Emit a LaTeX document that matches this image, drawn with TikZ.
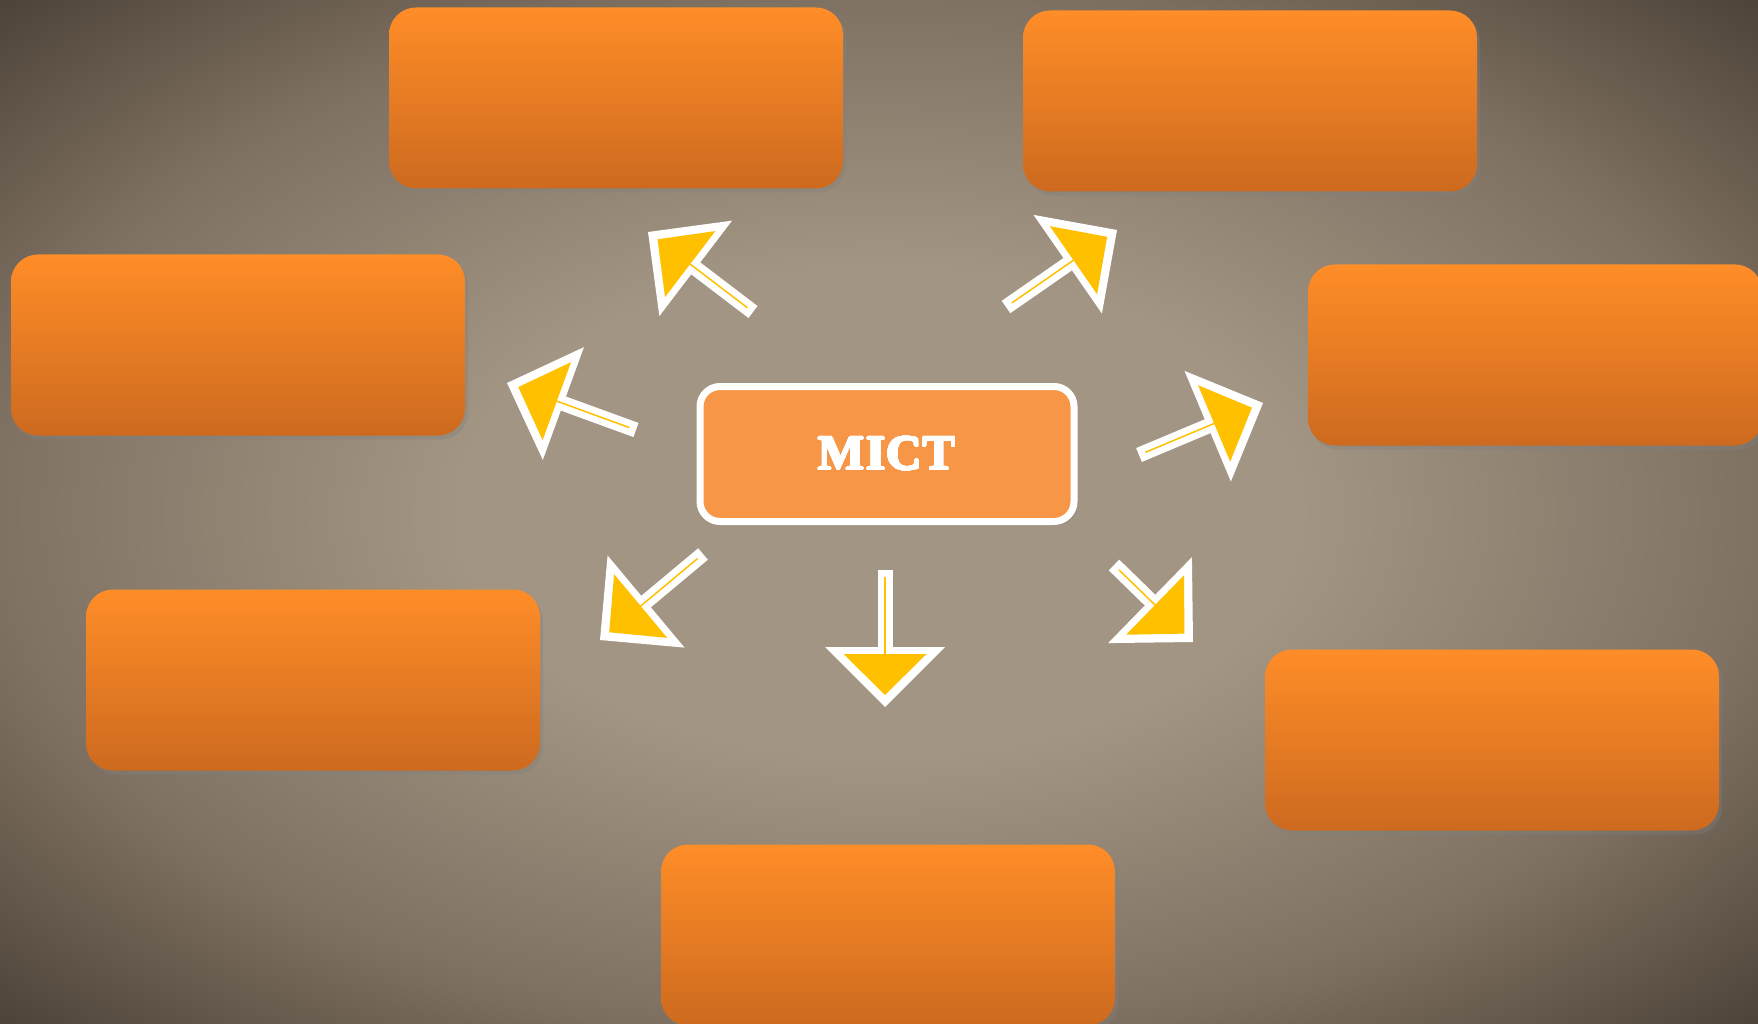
\documentclass[tikz,border=0pt]{standalone}
\usepackage{fontspec}
\setmainfont{Liberation Serif}
\usepackage{contour}
\contourlength{0.7pt}
\contournumber{32}
\usetikzlibrary{arrows.meta,shadows}
\definecolor{NaranjaArriba}{HTML}{FF8D28}
\definecolor{NaranjaAbajo}{HTML}{CD6A1F}
\definecolor{NaranjaCentro}{HTML}{F79646}
\definecolor{Amarillo}{HTML}{FFC000}
\definecolor{FondoClaro}{HTML}{A39583}
\definecolor{FondoMedio}{HTML}{807263}
\definecolor{FondoOscuro}{HTML}{4A4036}
\pgfdeclareradialshading{fondo}{\pgfpoint{0bp}{0bp}}{color(0bp)=(FondoClaro); color(12bp)=(FondoClaro); color(25bp)=(FondoMedio); color(36bp)=(FondoOscuro); color(50bp)=(FondoOscuro)}

\begin{document}
\begin{tikzpicture}[
      x=1pt, y=-1pt,
      caja/.style={rectangle, rounded corners=27pt, top color=NaranjaArriba,
        bottom color=NaranjaAbajo, minimum width=454pt, minimum height=181pt,
        inner sep=0pt, drop shadow={shadow xshift=3pt, shadow yshift=-4pt, opacity=0.35}},
      centro/.style={rectangle, rounded corners=20pt, fill=NaranjaCentro, draw=white,
        line width=7pt, minimum width=374pt, minimum height=135pt, text=white,
        font={\bfseries\fontsize{49}{54}\selectfont},
        drop shadow={shadow xshift=3pt, shadow yshift=-4pt, opacity=0.35}},
      flechablanca/.style={draw=white, line width=15pt,
        -{Triangle[length=60pt, width=120pt, line width=0pt]}},
      flechaamarilla/.style={draw=Amarillo, line width=1.5pt, shorten <=7pt, shorten >=12pt,
        -{Triangle[length=41pt, width=83pt, line width=0pt]}},
    ]

    \useasboundingbox (0,0) rectangle (1758,1024);
    \shade[shading=fondo] (0,0) rectangle (1758,1024);

    \node[caja] (arribaizq) at (616,98)   {};
    \node[caja] (arribader) at (1250,101) {};
    \node[caja] (izq)       at (238,345)  {};
    \node[caja] (der)       at (1535,355) {};
    \node[caja] (abajoizq)  at (313,680)  {};
    \node[caja] (abajoder)  at (1492,740) {};
    \node[caja] (abajo)     at (888,935)  {};
    \node[centro] (mict)    at (887,454)  {\contour{white}{M\kern2pt I\kern1pt C\kern1pt T}};

    \coordinate (cola1) at (753,312);  \coordinate (punta1) at (648,232);
    \coordinate (cola2) at (1006,307); \coordinate (punta2) at (1117,230);
    \coordinate (cola3) at (636,430);  \coordinate (punta3) at (507,383);
    \coordinate (cola4) at (1139,455); \coordinate (punta4) at (1263,403);
    \coordinate (cola5) at (703,554);  \coordinate (punta5) at (600,640);
    \coordinate (cola6) at (885,570);  \coordinate (punta6) at (885,707);
    \coordinate (cola7) at (1114,565); \coordinate (punta7) at (1193,642);

    \draw[flechablanca]   (cola1) -- (punta1);
    \draw[flechaamarilla] (cola1) -- (punta1);
    \draw[flechablanca]   (cola2) -- (punta2);
    \draw[flechaamarilla] (cola2) -- (punta2);
    \draw[flechablanca]   (cola3) -- (punta3);
    \draw[flechaamarilla] (cola3) -- (punta3);
    \draw[flechablanca]   (cola4) -- (punta4);
    \draw[flechaamarilla] (cola4) -- (punta4);
    \draw[flechablanca]   (cola5) -- (punta5);
    \draw[flechaamarilla] (cola5) -- (punta5);
    \draw[flechablanca]   (cola6) -- (punta6);
    \draw[flechaamarilla] (cola6) -- (punta6);
    \draw[flechablanca]   (cola7) -- (punta7);
    \draw[flechaamarilla] (cola7) -- (punta7);

  \end{tikzpicture}
\end{document}
